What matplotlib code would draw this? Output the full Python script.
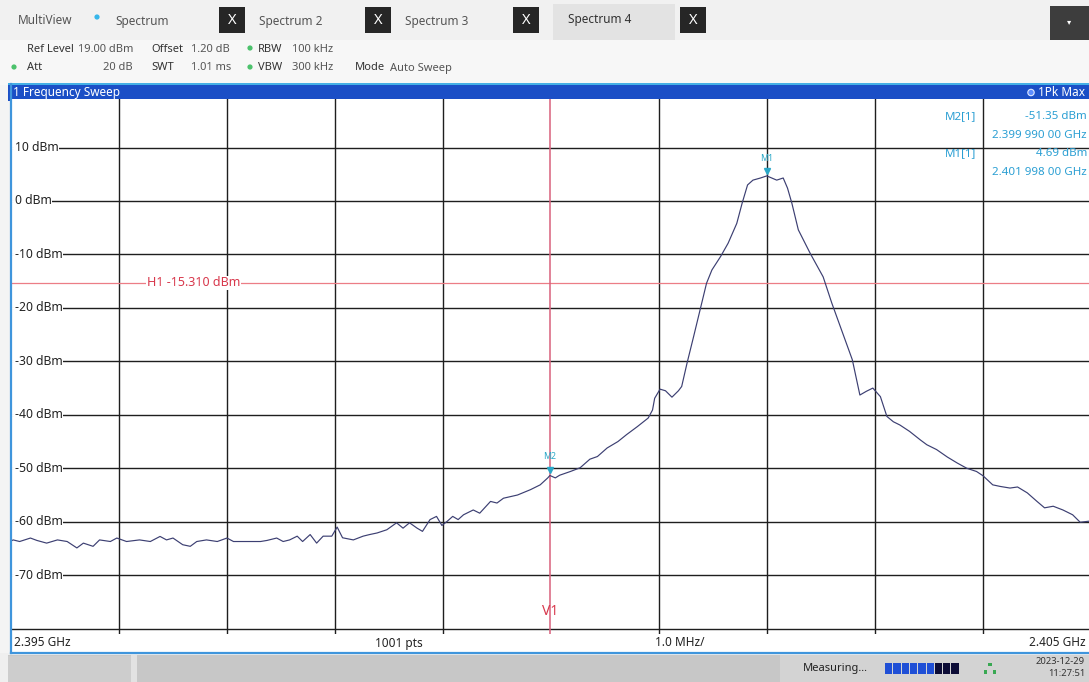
import matplotlib
matplotlib.use("Agg")
import matplotlib.pyplot as plt
from matplotlib.patches import Rectangle, Circle

plt.rcParams['font.family'] = ['Noto Sans', 'DejaVu Sans']

# ---------------- data ----------------
freq_ghz = [
    2.39500, 2.39502, 2.39508, 2.39518, 2.39524, 2.39533, 2.39543, 2.39552, 2.39561, 2.39567,
    2.39576, 2.39582, 2.39592, 2.39598, 2.39607, 2.39619, 2.39629, 2.39638, 2.39644, 2.39650,
    2.39659, 2.39666, 2.39672, 2.39681, 2.39691, 2.39700, 2.39706, 2.39719, 2.39731, 2.39737,
    2.39746, 2.39752, 2.39758, 2.39765, 2.39770, 2.39777, 2.39783, 2.39789, 2.39797, 2.39802,
    2.39807, 2.39817, 2.39826, 2.39832, 2.39839, 2.39848, 2.39857, 2.39863, 2.39869, 2.39876,
    2.39881, 2.39888, 2.39894, 2.39899, 2.39904, 2.39909, 2.39914, 2.39919, 2.39928, 2.39934,
    2.39944, 2.39950, 2.39956, 2.39969, 2.39981, 2.39990, 2.39997, 2.399990, 2.40004, 2.40008,
    2.40018, 2.40027, 2.40036, 2.40043, 2.40052, 2.40062, 2.40070, 2.40080, 2.40090, 2.40094,
    2.40096, 2.40101, 2.40106, 2.40112, 2.40118, 2.40121, 2.40126, 2.40132, 2.40138, 2.40144,
    2.40149, 2.40157, 2.40164, 2.40172, 2.40177, 2.40182, 2.40187, 2.40194, 2.401998, 2.40209,
    2.40215, 2.40219, 2.40223, 2.40229, 2.40240, 2.40252, 2.40260, 2.40269, 2.40279, 2.40286,
    2.40292, 2.40298, 2.40305, 2.40311, 2.40317, 2.40323, 2.40332, 2.40342, 2.40348, 2.40357,
    2.40367, 2.40376, 2.40385, 2.40394, 2.40400, 2.40409, 2.40416, 2.40425, 2.40432, 2.40441,
    2.40450, 2.40457, 2.40465, 2.40474, 2.40483, 2.40490, 2.40498, 2.40500,
]
level_dbm = [
    -63.6, -63.4, -63.7, -63.05, -63.5, -64.0, -63.4, -63.7, -64.9, -64.0,
    -64.6, -63.4, -63.7, -63.05, -63.7, -63.4, -63.7, -62.75, -63.4, -63.05,
    -64.3, -64.6, -63.7, -63.4, -63.7, -63.05, -63.7, -63.7, -63.7, -63.5,
    -63.05, -63.7, -63.4, -62.7, -63.7, -62.4, -64.0, -62.7, -62.7, -61.0,
    -63.0, -63.4, -62.7, -62.4, -62.1, -61.5, -60.2, -61.2, -60.2, -61.2,
    -61.8, -59.6, -59.0, -60.7, -59.9, -59.0, -59.6, -58.7, -57.8, -58.4,
    -56.2, -56.5, -55.6, -55.0, -54.0, -53.1, -51.8, -51.35, -51.8, -51.3,
    -50.6, -49.9, -48.3, -47.8, -46.2, -45.0, -43.7, -42.2, -40.6, -39.1,
    -36.9, -35.2, -35.5, -36.7, -35.5, -34.7, -30.3, -25.4, -20.4, -15.4,
    -12.9, -10.4, -7.9, -4.2, -0.4, 3.0, 3.9, 4.3, 4.69, 3.9,
    4.3, 2.4, -0.4, -5.4, -9.8, -14.2, -19.1, -24.1, -29.7, -36.3,
    -35.6, -35.0, -36.6, -40.3, -41.3, -41.9, -43.1, -44.7, -45.6, -46.5,
    -47.9, -49.0, -50.0, -50.6, -51.4, -53.1, -53.4, -53.7, -53.5, -54.6,
    -56.2, -57.4, -57.1, -57.8, -58.7, -60.1, -59.9, -60.2,
]

f_start, f_stop = 2.395, 2.405
ref_level, bottom_level = 19.0, -81.0
y_grid_dbm = [10, 0, -10, -20, -30, -40, -50, -60, -70, -80]
y_grid_labels = ['10 dBm', '0 dBm', '-10 dBm', '-20 dBm', '-30 dBm',
                 '-40 dBm', '-50 dBm', '-60 dBm', '-70 dBm', '']
x_grid_ghz = [2.396, 2.397, 2.398, 2.399, 2.400, 2.401, 2.402, 2.403, 2.404]
h1_level = -15.31
v1_freq = 2.39999
m1_freq, m1_level = 2.401998, 4.69
m2_freq, m2_level = 2.39999, -51.35

# ---------------- figure ----------------
W, H = 1089, 682
fig = plt.figure(figsize=(W / 100, H / 100), dpi=100)
fig.patch.set_facecolor('#f4f4f4')

bg = fig.add_axes([0, 0, 1, 1])
bg.set_xlim(0, W)
bg.set_ylim(H, 0)
bg.axis('off')

def rect(ax, x, y, w, h, color, **kw):
    ax.add_patch(Rectangle((x, y), w, h, facecolor=color, edgecolor='none', **kw))

# top tab bar
rect(bg, 0, 0, W, 44, '#f1f1f1')
rect(bg, 553, 4, 122, 36, '#e3e3e3')
for xb in (219, 365, 513, 680):
    rect(bg, xb, 7, 26, 26, '#262626')
    bg.text(xb + 13, 20.5, 'X', color='white', fontsize=10.5, fontweight='bold',
            ha='center', va='center')
rect(bg, 1050, 6, 39, 34, '#3d3d3d')
bg.text(1069, 22, '\u25be', color='white', fontsize=6, ha='center', va='center',
        family='DejaVu Sans')
bg.text(18, 21, 'MultiView', color='#555555', fontsize=8.5, va='center')
bg.add_patch(Circle((97, 17), 2.6, facecolor='#37b6ea', edgecolor='none'))
bg.text(115, 21, 'Spectrum', color='#555555', fontsize=8.5, va='center')
bg.text(259, 21, 'Spectrum 2', color='#555555', fontsize=8.5, va='center')
bg.text(405, 21, 'Spectrum 3', color='#555555', fontsize=8.5, va='center')
bg.text(568, 20, 'Spectrum 4', color='#333333', fontsize=8.5, va='center')

# parameter rows
rect(bg, 0, 40, W, 45, '#f7f7f7')
def ptxt(x, y, s, bold=False, ha='left'):
    bg.text(x, y, s, fontsize=8, color='#333333' if bold else '#555555',
            fontweight='bold' if bold else 'normal', ha=ha, va='center')
ptxt(27, 49, 'Ref Level', True)
ptxt(78, 49, '19.00 dBm')
ptxt(151, 49, 'Offset', True)
ptxt(191, 49, '1.20 dB')
ptxt(258, 49, 'RBW', True)
ptxt(292, 49, '100 kHz')
ptxt(27, 68, 'Att', True)
ptxt(133, 68, '20 dB', ha='right')
ptxt(151, 68, 'SWT', True)
ptxt(191, 68, '1.01 ms')
ptxt(258, 68, 'VBW', True)
ptxt(292, 68, '300 kHz')
ptxt(355, 68, 'Mode', True)
ptxt(390, 68, 'Auto Sweep')
for (cx, cy) in ((250, 48), (14, 67), (250, 67)):
    bg.add_patch(Circle((cx, cy), 2.6, facecolor='#4cc26c', edgecolor='none'))

# blue title bar
rect(bg, 8, 84, W - 8, 17, '#1b4fc6')
rect(bg, 8, 83, W - 8, 1.5, '#45b0e6')
bg.text(13, 92.5, '1 Frequency Sweep', color='white', fontsize=8.5,
        fontweight='bold', va='center')
bg.add_patch(Circle((1031, 92.5), 3.2, facecolor='#5c8dff', edgecolor='#dfe8ff', lw=0.8))
bg.text(1085, 92.5, '1Pk Max', color='white', fontsize=8.5, ha='right', va='center')

# plot frame background + label bar
rect(bg, 10, 101, W - 10, 552, 'white')
bg.text(14, 643, '2.395 GHz', fontsize=8.5, fontweight='bold', color='#222222', va='center')
bg.text(375, 643, '1001 pts', fontsize=8.5, fontweight='bold', color='#222222', va='center')
bg.text(655, 643, '1.0 MHz/', fontsize=8.5, fontweight='bold', color='#222222', va='center')
bg.text(1086, 643, '2.405 GHz', fontsize=8.5, fontweight='bold', color='#222222',
        ha='right', va='center')

# status bar
rect(bg, 0, 653, W, 29, '#efefef')
rect(bg, 8, 655, W - 8, 27, '#c7c7c7')
rect(bg, 8, 656, 123, 26, '#cdcdcd')
rect(bg, 131, 655, 6, 27, '#e2e2e2')
rect(bg, 780, 655, W - 780, 27, '#d3d3d3')
bg.text(803, 668, 'Measuring...', fontsize=8, color='#222222', va='center')
for i in range(9):
    rect(bg, 885 + i * 8.3, 663, 7.3, 11, '#1f4fd6' if i < 6 else '#0c0c36')
for (cx, cy) in ((990, 664.5), (985.5, 672), (994.5, 672)):
    rect(bg, cx - 1.6, cy - 1.6, 3.2, 3.2, '#38a852')
bg.text(1085, 661, '2023-12-29', fontsize=6.8, color='#333333', ha='right', va='center')
bg.text(1085, 673, '11:27:51', fontsize=6.8, color='#333333', ha='right', va='center')

# ---------------- data axes ----------------
x0, x1 = 11.0, 1091.0
ytop, ybot = 99.4, 634.0
ax = fig.add_axes([x0 / W, 1 - ybot / H, (x1 - x0) / W, (ybot - ytop) / H])
ax.set_xlim(f_start, f_stop)
ax.set_ylim(bottom_level, ref_level)
ax.set_facecolor('white')
for s in ax.spines.values():
    s.set_visible(False)
ax.set_xticks([])
ax.set_yticks([])

for yv in y_grid_dbm:
    ax.axhline(yv, color='#1e1e1e', lw=1.0, zorder=1)
for xv in x_grid_ghz:
    if abs(xv - v1_freq) < 2e-5:
        continue  # covered by the V1 display line on the instrument
    ax.axvline(xv, color='#1e1e1e', lw=1.0, zorder=1)

for yv, lab in zip(y_grid_dbm, y_grid_labels):
    if lab:
        ax.text(0.0035, yv, lab, transform=ax.get_yaxis_transform(), fontsize=8.8,
                color='#222222', ha='left', va='center', zorder=4,
                bbox=dict(facecolor='white', edgecolor='none',
                          boxstyle='square,pad=0.05'))
        ax.axhline(yv, xmin=0, xmax=0.006, color='white', lw=2.0, zorder=3.5)

# H1 and V1 lines
ax.axhline(h1_level, color='#ec7d86', lw=0.9, zorder=2)
ax.text(0.126, h1_level, 'H1 -15.310 dBm', transform=ax.get_yaxis_transform(),
        fontsize=9, color='#d8384c', ha='left', va='center', zorder=4,
        bbox=dict(facecolor='white', edgecolor='none', pad=0.5))
ax.axvline(v1_freq, color='#d9607c', lw=1.1, zorder=2)
ax.text(v1_freq, -76.8, 'V1', fontsize=10, color='#d8384c', ha='center', va='center', zorder=4)

# trace
ax.plot(freq_ghz, level_dbm, color='#3c3f72', lw=0.85, zorder=3)

# markers
mk_col = '#2aa8c8'
ax.plot([m1_freq], [m1_level + 0.9], marker='v', ms=5, color=mk_col, zorder=5, lw=0)
ax.text(m1_freq, m1_level + 3.2, 'M1', fontsize=6.3, color=mk_col, ha='center', va='center', zorder=5)
ax.plot([m2_freq], [m2_level + 1.0], marker='v', ms=5, color=mk_col, zorder=5, lw=0)
ax.text(m2_freq, m2_level + 3.5, 'M2', fontsize=6.3, color=mk_col, ha='center', va='center', zorder=5)

# marker table (top right)
tab_col = '#2b9fd3'
tx = ax.get_yaxis_transform()
def lvl(px):  # figure pixel row -> level, for placing the table rows
    return ref_level - (px - ytop) / (ybot - ytop) * (ref_level - bottom_level)
ax.text(0.865, lvl(117), 'M2[1]', transform=tx, fontsize=8.3, color=tab_col, ha='left', va='center', zorder=5)
ax.text(0.9963, lvl(117), '-51.35 dBm', transform=tx, fontsize=8.3, color=tab_col, ha='right', va='center', zorder=5)
ax.text(0.9963, lvl(135.5), '2.399 990 00 GHz', transform=tx, fontsize=8.3, color=tab_col, ha='right', va='center', zorder=5)
ax.text(0.865, lvl(154), 'M1[1]', transform=tx, fontsize=8.3, color=tab_col, ha='left', va='center', zorder=5)
ax.text(0.9963, lvl(154), '4.69 dBm', transform=tx, fontsize=8.3, color=tab_col, ha='right', va='center', zorder=5)
ax.text(0.9963, lvl(172.5), '2.401 998 00 GHz', transform=tx, fontsize=8.3, color=tab_col, ha='right', va='center', zorder=5)

# frame on top
top = fig.add_axes([0, 0, 1, 1], zorder=10)
top.set_xlim(0, W)
top.set_ylim(H, 0)
top.axis('off')
top.patch.set_alpha(0)
top.plot([10.5, 10.5], [84, 652.5], color='#3f95dc', lw=1.6)
top.plot([10.5, W], [652.5, 652.5], color='#3f95dc', lw=1.6)

fig.savefig('out.png', dpi=100, facecolor=fig.get_facecolor())
